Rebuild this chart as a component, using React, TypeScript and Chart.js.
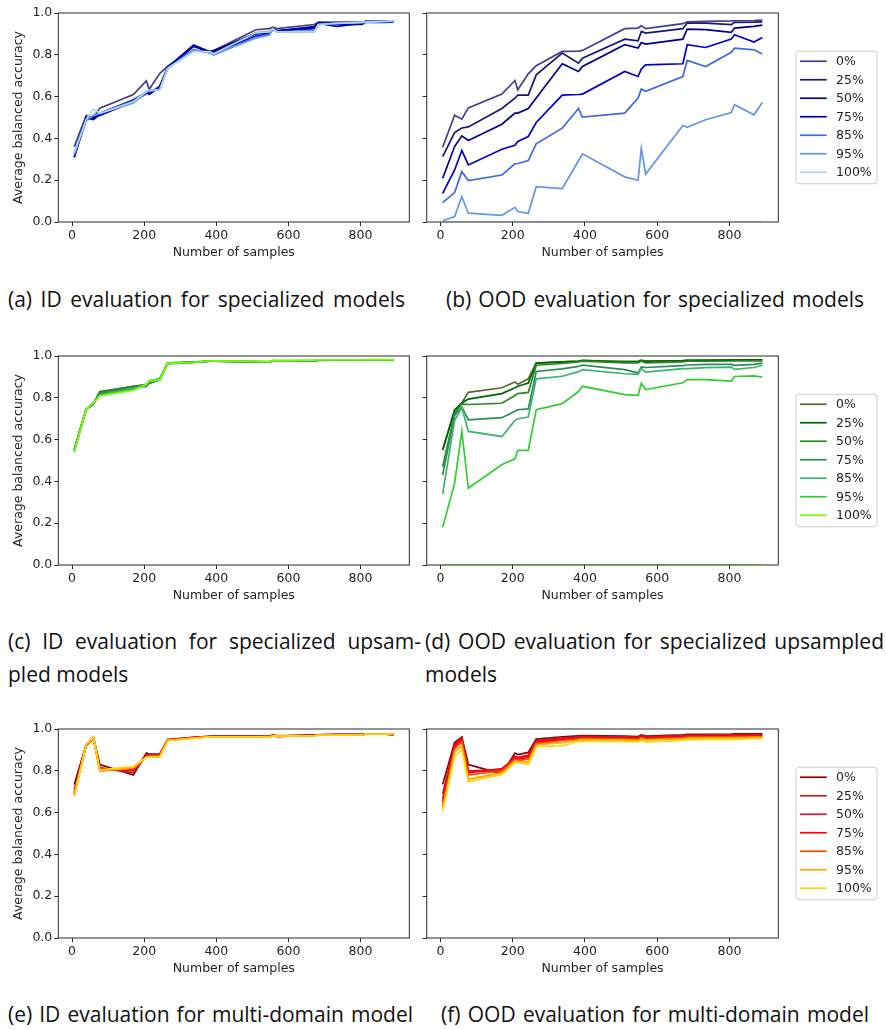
import React, { useEffect, useLayoutEffect, useRef } from "react";
import { Chart, registerables } from "chart.js";

Chart.register(...registerables);

// ---------------- data ----------------
const SAMPLES = [6, 39, 59, 77, 170, 206, 214, 243, 265, 337, 382, 393, 510, 547, 556, 568, 671, 683, 734, 805, 814, 868, 891];
const SERIES_LABELS = ["0%", "25%", "50%", "75%", "85%", "95%", "100%"];
const X_TICKS = [0, 200, 400, 600, 800];
const Y_TICKS = [0, 0.2, 0.4, 0.6, 0.8, 1.0];

const BLUES = ["#483d8b", "#191970", "#00008b", "#0000cd", "#4169e1", "#6495ed", "#add8e6"];
const GREENS = ["#556b2f", "#006400", "#228b22", "#2e8b57", "#3cb371", "#32cd32", "#7cfc00"];
const REDS = ["#8b0000", "#b22222", "#dc143c", "#ff0000", "#ff4500", "#ffa500", "#ffd700"];

// (a) ID evaluation for specialized models
const PANEL_A = [
  [0.36, 0.51, 0.50, 0.545, 0.61, 0.675, 0.635, 0.71, 0.745, 0.82, 0.815, 0.82, 0.92, 0.925, 0.932, 0.925, 0.945, 0.955, 0.957, 0.957, 0.96, 0.96, 0.962],
  [0.33, 0.50, 0.495, 0.52, 0.585, 0.62, 0.615, 0.65, 0.74, 0.84, 0.815, 0.815, 0.905, 0.91, 0.925, 0.915, 0.93, 0.955, 0.95, 0.95, 0.96, 0.96, 0.96],
  [0.31, 0.50, 0.49, 0.515, 0.58, 0.62, 0.61, 0.645, 0.74, 0.847, 0.815, 0.82, 0.90, 0.905, 0.925, 0.915, 0.935, 0.95, 0.945, 0.945, 0.96, 0.96, 0.96],
  [0.31, 0.49, 0.50, 0.51, 0.575, 0.615, 0.62, 0.64, 0.735, 0.842, 0.81, 0.81, 0.89, 0.90, 0.92, 0.915, 0.925, 0.95, 0.936, 0.95, 0.955, 0.955, 0.957],
  [0.32, 0.485, 0.51, 0.52, 0.58, 0.625, 0.625, 0.635, 0.735, 0.825, 0.81, 0.80, 0.885, 0.895, 0.925, 0.91, 0.915, 0.945, 0.95, 0.955, 0.96, 0.96, 0.96],
  [0.33, 0.49, 0.51, 0.52, 0.57, 0.62, 0.63, 0.635, 0.735, 0.82, 0.81, 0.80, 0.88, 0.895, 0.92, 0.91, 0.91, 0.945, 0.95, 0.955, 0.96, 0.96, 0.962],
  [0.33, 0.49, 0.54, 0.52, 0.575, 0.625, 0.63, 0.63, 0.735, 0.815, 0.815, 0.805, 0.905, 0.91, 0.925, 0.91, 0.91, 0.945, 0.95, 0.955, 0.955, 0.96, 0.962],
];

// (b) OOD evaluation for specialized models
const PANEL_B = [
  [0.358, 0.511, 0.492, 0.546, 0.612, 0.677, 0.633, 0.709, 0.748, 0.816, 0.818, 0.821, 0.925, 0.928, 0.939, 0.925, 0.949, 0.958, 0.96, 0.962, 0.963, 0.964, 0.966],
  [0.313, 0.428, 0.45, 0.455, 0.543, 0.593, 0.607, 0.607, 0.704, 0.808, 0.76, 0.784, 0.875, 0.867, 0.912, 0.904, 0.925, 0.952, 0.952, 0.944, 0.955, 0.956, 0.958],
  [0.209, 0.361, 0.412, 0.39, 0.468, 0.521, 0.521, 0.543, 0.593, 0.757, 0.72, 0.744, 0.848, 0.832, 0.859, 0.851, 0.875, 0.923, 0.92, 0.907, 0.928, 0.936, 0.942],
  [0.137, 0.249, 0.342, 0.273, 0.348, 0.367, 0.385, 0.409, 0.476, 0.607, 0.61, 0.612, 0.72, 0.696, 0.732, 0.752, 0.757, 0.848, 0.835, 0.875, 0.896, 0.861, 0.883],
  [0.093, 0.141, 0.241, 0.198, 0.225, 0.278, 0.28, 0.294, 0.374, 0.449, 0.543, 0.502, 0.521, 0.593, 0.636, 0.625, 0.696, 0.773, 0.744, 0.812, 0.832, 0.824, 0.804],
  [0.006, 0.026, 0.121, 0.042, 0.032, 0.07, 0.05, 0.042, 0.169, 0.16, 0.293, 0.326, 0.216, 0.2, 0.352, 0.229, 0.462, 0.453, 0.489, 0.524, 0.561, 0.513, 0.572],
  [0, 0, 0, 0, 0, 0, 0, 0, 0, 0, 0, 0, 0, 0, 0, 0, 0, 0, 0, 0, 0, 0, 0],
];

// (c) ID evaluation for specialized upsampled models
const PANEL_C = [
  [0.55, 0.745, 0.77, 0.83, 0.855, 0.865, 0.875, 0.89, 0.965, 0.97, 0.975, 0.975, 0.972, 0.972, 0.976, 0.976, 0.978, 0.98, 0.98, 0.98, 0.981, 0.981, 0.981],
  [0.55, 0.745, 0.77, 0.825, 0.85, 0.86, 0.87, 0.885, 0.965, 0.97, 0.975, 0.975, 0.973, 0.971, 0.977, 0.976, 0.978, 0.98, 0.98, 0.98, 0.98, 0.98, 0.98],
  [0.55, 0.745, 0.77, 0.825, 0.855, 0.86, 0.875, 0.89, 0.967, 0.972, 0.976, 0.976, 0.972, 0.972, 0.978, 0.977, 0.978, 0.98, 0.98, 0.98, 0.981, 0.981, 0.981],
  [0.55, 0.745, 0.775, 0.82, 0.85, 0.855, 0.87, 0.888, 0.965, 0.97, 0.975, 0.975, 0.972, 0.971, 0.977, 0.976, 0.977, 0.979, 0.98, 0.98, 0.98, 0.98, 0.98],
  [0.545, 0.745, 0.775, 0.815, 0.845, 0.86, 0.88, 0.89, 0.965, 0.97, 0.975, 0.976, 0.973, 0.972, 0.977, 0.977, 0.978, 0.98, 0.98, 0.981, 0.981, 0.981, 0.981],
  [0.54, 0.745, 0.775, 0.81, 0.84, 0.865, 0.882, 0.89, 0.962, 0.968, 0.976, 0.976, 0.973, 0.973, 0.978, 0.978, 0.979, 0.981, 0.981, 0.981, 0.982, 0.982, 0.982],
  [0.54, 0.745, 0.775, 0.81, 0.835, 0.865, 0.88, 0.885, 0.965, 0.97, 0.976, 0.977, 0.974, 0.973, 0.978, 0.978, 0.98, 0.982, 0.982, 0.982, 0.983, 0.983, 0.983],
];

// (d) OOD evaluation for specialized upsampled models
const PANEL_D = [
  [0.55, 0.743, 0.775, 0.826, 0.848, 0.876, 0.865, 0.891, 0.966, 0.972, 0.975, 0.978, 0.975, 0.976, 0.98, 0.976, 0.978, 0.979, 0.98, 0.981, 0.981, 0.982, 0.982],
  [0.55, 0.74, 0.775, 0.794, 0.82, 0.848, 0.855, 0.87, 0.966, 0.972, 0.976, 0.979, 0.971, 0.972, 0.978, 0.975, 0.978, 0.979, 0.979, 0.98, 0.98, 0.981, 0.981],
  [0.47, 0.724, 0.771, 0.768, 0.774, 0.811, 0.82, 0.826, 0.956, 0.964, 0.972, 0.975, 0.967, 0.967, 0.975, 0.967, 0.972, 0.975, 0.975, 0.976, 0.977, 0.977, 0.977],
  [0.43, 0.716, 0.755, 0.695, 0.705, 0.736, 0.743, 0.747, 0.926, 0.938, 0.95, 0.956, 0.935, 0.919, 0.948, 0.945, 0.954, 0.957, 0.96, 0.96, 0.955, 0.96, 0.966],
  [0.34, 0.691, 0.753, 0.639, 0.615, 0.692, 0.70, 0.708, 0.891, 0.903, 0.925, 0.935, 0.915, 0.912, 0.94, 0.923, 0.94, 0.94, 0.944, 0.947, 0.936, 0.945, 0.956],
  [0.18, 0.391, 0.641, 0.367, 0.481, 0.508, 0.548, 0.548, 0.743, 0.772, 0.83, 0.855, 0.815, 0.812, 0.87, 0.839, 0.872, 0.887, 0.887, 0.88, 0.902, 0.905, 0.899],
  [0, 0, 0, 0, 0, 0, 0, 0, 0, 0, 0, 0, 0, 0, 0, 0, 0, 0, 0, 0, 0, 0, 0],
];

// (e) ID evaluation for multi-domain model
const PANEL_E = [
  [0.735, 0.925, 0.96, 0.83, 0.78, 0.885, 0.88, 0.88, 0.95, 0.96, 0.965, 0.966, 0.966, 0.965, 0.972, 0.966, 0.972, 0.972, 0.974, 0.975, 0.976, 0.977, 0.977],
  [0.71, 0.92, 0.955, 0.815, 0.79, 0.875, 0.875, 0.875, 0.948, 0.96, 0.965, 0.965, 0.965, 0.965, 0.97, 0.968, 0.97, 0.972, 0.973, 0.974, 0.976, 0.976, 0.975],
  [0.70, 0.92, 0.955, 0.81, 0.80, 0.87, 0.875, 0.875, 0.947, 0.958, 0.964, 0.965, 0.964, 0.964, 0.97, 0.966, 0.97, 0.972, 0.973, 0.973, 0.975, 0.975, 0.975],
  [0.69, 0.925, 0.96, 0.805, 0.805, 0.868, 0.873, 0.873, 0.947, 0.958, 0.963, 0.963, 0.963, 0.963, 0.968, 0.964, 0.97, 0.971, 0.972, 0.973, 0.975, 0.975, 0.97],
  [0.69, 0.925, 0.958, 0.80, 0.81, 0.865, 0.87, 0.87, 0.945, 0.957, 0.963, 0.963, 0.963, 0.962, 0.968, 0.965, 0.969, 0.971, 0.972, 0.973, 0.975, 0.975, 0.975],
  [0.68, 0.925, 0.96, 0.80, 0.815, 0.865, 0.868, 0.868, 0.945, 0.956, 0.962, 0.963, 0.962, 0.962, 0.967, 0.965, 0.968, 0.97, 0.971, 0.972, 0.975, 0.975, 0.976],
  [0.68, 0.925, 0.96, 0.805, 0.82, 0.865, 0.865, 0.865, 0.945, 0.955, 0.962, 0.962, 0.962, 0.962, 0.967, 0.966, 0.968, 0.97, 0.971, 0.972, 0.976, 0.976, 0.978],
];

// (f) OOD evaluation for multi-domain model
const PANEL_F = [
  [0.735, 0.935, 0.962, 0.83, 0.785, 0.885, 0.878, 0.888, 0.952, 0.963, 0.967, 0.968, 0.966, 0.964, 0.972, 0.966, 0.972, 0.974, 0.975, 0.976, 0.977, 0.977, 0.977],
  [0.69, 0.925, 0.958, 0.80, 0.80, 0.87, 0.865, 0.875, 0.945, 0.958, 0.963, 0.965, 0.962, 0.96, 0.968, 0.963, 0.968, 0.97, 0.971, 0.972, 0.973, 0.973, 0.973],
  [0.665, 0.92, 0.955, 0.80, 0.805, 0.865, 0.862, 0.87, 0.94, 0.955, 0.96, 0.962, 0.96, 0.958, 0.966, 0.96, 0.966, 0.968, 0.969, 0.97, 0.971, 0.971, 0.97],
  [0.65, 0.915, 0.95, 0.79, 0.81, 0.86, 0.855, 0.865, 0.935, 0.95, 0.957, 0.958, 0.957, 0.955, 0.962, 0.957, 0.962, 0.965, 0.966, 0.967, 0.968, 0.968, 0.967],
  [0.63, 0.905, 0.94, 0.78, 0.80, 0.855, 0.85, 0.855, 0.93, 0.945, 0.952, 0.954, 0.952, 0.95, 0.958, 0.953, 0.958, 0.961, 0.962, 0.963, 0.964, 0.964, 0.963],
  [0.62, 0.89, 0.92, 0.76, 0.79, 0.845, 0.845, 0.84, 0.925, 0.935, 0.948, 0.95, 0.948, 0.946, 0.954, 0.948, 0.954, 0.957, 0.958, 0.958, 0.958, 0.96, 0.96],
  [0.605, 0.87, 0.90, 0.748, 0.783, 0.84, 0.84, 0.83, 0.915, 0.92, 0.94, 0.942, 0.94, 0.94, 0.945, 0.937, 0.945, 0.948, 0.95, 0.95, 0.95, 0.955, 0.955],
];

// ---------------- styling ----------------
const AX_FONT = { family: '"DejaVu Sans", sans-serif', size: 12.5 };
const TEXT_COLOR = "#1f1f1f";
const ROW_TOPS = [0, 343, 716];
const CANVAS_H = 262;

const framePlugin = {
  id: "frame",
  afterDatasetsDraw(chart: any) {
    const { ctx, chartArea } = chart;
    const { left, top, right, bottom } = chartArea;
    ctx.save();
    ctx.strokeStyle = "#2a2a2a";
    ctx.lineWidth = 1;
    ctx.strokeRect(left, top, right - left, bottom - top);
    ctx.restore();
  },
  afterDraw(chart: any, _args: any, opts: any) {
    if (!opts || !opts.legend) return;
    const { ctx, chartArea } = chart;
    const fx = opts.x;
    const fw = 81;
    const fh = 132.5;
    const fy = (chartArea.top + chartArea.bottom) / 2 - fh / 2;
    const r = 3;
    ctx.save();
    ctx.beginPath();
    ctx.moveTo(fx + r, fy);
    ctx.lineTo(fx + fw - r, fy);
    ctx.arcTo(fx + fw, fy, fx + fw, fy + r, r);
    ctx.lineTo(fx + fw, fy + fh - r);
    ctx.arcTo(fx + fw, fy + fh, fx + fw - r, fy + fh, r);
    ctx.lineTo(fx + r, fy + fh);
    ctx.arcTo(fx, fy + fh, fx, fy + fh - r, r);
    ctx.lineTo(fx, fy + r);
    ctx.arcTo(fx, fy, fx + r, fy, r);
    ctx.closePath();
    ctx.fillStyle = "rgba(255,255,255,0.8)";
    ctx.fill();
    ctx.strokeStyle = "#cccccc";
    ctx.lineWidth = 1;
    ctx.stroke();
    chart.data.datasets.forEach((ds: any, i: number) => {
      const y = fy + 10 + i * 18.5;
      ctx.beginPath();
      ctx.strokeStyle = ds.borderColor;
      ctx.lineWidth = ds.borderWidth;
      ctx.moveTo(fx + 4, y);
      ctx.lineTo(fx + 30.7, y);
      ctx.stroke();
      ctx.fillStyle = TEXT_COLOR;
      ctx.font = '12.5px "DejaVu Sans", sans-serif';
      ctx.textBaseline = "middle";
      ctx.textAlign = "left";
      ctx.fillText(ds.label, fx + 40, y + 0.5);
    });
    ctx.restore();
  },
};

type PanelProps = {
  left: number;
  top: number;
  width: number;
  series: number[][];
  colors: string[];
  isLeft: boolean;
};

function Panel({ left, top, width, series, colors, isLeft }: PanelProps) {
  const ref = useRef<HTMLCanvasElement>(null);
  useEffect(() => {
    const datasets = series.map((vals, i) => ({
      label: SERIES_LABELS[i],
      data: SAMPLES.map((x, j) => ({ x, y: vals[j] })),
      borderColor: colors[i],
      backgroundColor: colors[i],
      borderWidth: 1.7,
      pointRadius: 0,
      pointHoverRadius: 0,
      tension: 0,
      fill: false,
      order: series.length - 1 - i,
    }));
    const chart = new Chart(ref.current as HTMLCanvasElement, {
      type: "line",
      data: { datasets },
      plugins: [framePlugin as any],
      options: {
        responsive: false,
        animation: false,
        devicePixelRatio: 1,
        layout: {
          padding: { left: 0, right: isLeft ? 10.7 : 107.7, top: 13, bottom: 0 },
        },
        plugins: {
          legend: { display: false },
          tooltip: { enabled: false },
          frame: { legend: !isLeft, x: 376 },
        } as any,
        scales: {
          x: {
            type: "linear",
            position: "bottom",
            min: -38.25,
            max: 935.25,
            afterBuildTicks: (s: any) => {
              s.ticks = X_TICKS.map((v) => ({ value: v }));
            },
            afterFit: (s: any) => {
              s.height = 40;
            },
            grid: {
              drawOnChartArea: false,
              drawTicks: true,
              tickLength: 4,
              color: "#2a2a2a",
              lineWidth: 1,
            },
            border: { display: false },
            ticks: {
              font: AX_FONT,
              color: TEXT_COLOR,
              padding: 2.5,
              maxRotation: 0,
              autoSkip: false,
              callback: (v: any) => String(v),
            },
            title: {
              display: true,
              text: "Number of samples",
              font: AX_FONT,
              color: TEXT_COLOR,
              padding: { top: 0, bottom: 1.5 },
            },
          },
          y: {
            type: "linear",
            min: 0,
            max: 1,
            afterBuildTicks: (s: any) => {
              s.ticks = Y_TICKS.map((v) => ({ value: v }));
            },
            afterFit: (s: any) => {
              s.width = isLeft ? 58.3 : 6.7;
            },
            grid: {
              drawOnChartArea: false,
              drawTicks: true,
              tickLength: 4,
              color: "#2a2a2a",
              lineWidth: 1,
            },
            border: { display: false },
            ticks: {
              font: AX_FONT,
              color: TEXT_COLOR,
              padding: 2,
              callback: (v: any) => (isLeft ? Number(v).toFixed(1) : ""),
            },
            title: {
              display: isLeft,
              text: "Average balanced accuracy",
              font: AX_FONT,
              color: TEXT_COLOR,
              padding: { top: 10.8, bottom: 0 },
            },
          },
        },
      } as any,
    });
    return () => chart.destroy();
  }, []);
  return (
    <canvas
      ref={ref}
      width={width}
      height={CANVAS_H}
      style={{ position: "absolute", left, top, width, height: CANVAS_H }}
    />
  );
}

type CaptionProps = { text: string; left: number; top: number; width?: number };

function Caption({ text, left, top, width }: CaptionProps) {
  const ref = useRef<HTMLDivElement>(null);
  useLayoutEffect(() => {
    const el = ref.current;
    if (!el || !width) return;
    el.style.wordSpacing = "0px";
    const natural = el.getBoundingClientRect().width;
    const gaps = (text.match(/ /g) || []).length;
    if (gaps > 0) el.style.wordSpacing = `${(width - natural) / gaps}px`;
  }, [text, width]);
  return (
    <div
      ref={ref}
      style={{
        position: "absolute",
        left,
        top,
        fontFamily: '"Open Sans", "Noto Sans", sans-serif',
        fontSize: 21,
        lineHeight: "24px",
        color: "#111",
        whiteSpace: "nowrap",
      }}
    >
      {text}
    </div>
  );
}

export default function App() {
  return (
    <div style={{ position: "absolute", left: 0, top: 0, width: 886, height: 1030, background: "#fff" }}>
      <Panel left={0} top={ROW_TOPS[0]} width={420} series={PANEL_A} colors={BLUES} isLeft={true} />
      <Panel left={420} top={ROW_TOPS[0]} width={466} series={PANEL_B} colors={BLUES} isLeft={false} />
      <Panel left={0} top={ROW_TOPS[1]} width={420} series={PANEL_C} colors={GREENS} isLeft={true} />
      <Panel left={420} top={ROW_TOPS[1]} width={466} series={PANEL_D} colors={GREENS} isLeft={false} />
      <Panel left={0} top={ROW_TOPS[2]} width={420} series={PANEL_E} colors={REDS} isLeft={true} />
      <Panel left={420} top={ROW_TOPS[2]} width={466} series={PANEL_F} colors={REDS} isLeft={false} />

      <Caption text="(a) ID evaluation for specialized models" left={8} top={287} width={397} />
      <Caption text="(b) OOD evaluation for specialized models" left={446} top={287} width={418} />
      <Caption text="(c) ID evaluation for specialized upsam-" left={8} top={629} width={413} />
      <Caption text="pled models" left={8} top={662} />
      <Caption text="(d) OOD evaluation for specialized upsampled" left={425} top={629} width={459} />
      <Caption text="models" left={425} top={662} />
      <Caption text="(e) ID evaluation for multi-domain model" left={8} top={1002} width={405} />
      <Caption text="(f) OOD evaluation for multi-domain model" left={441} top={1002} width={428} />
    </div>
  );
}
